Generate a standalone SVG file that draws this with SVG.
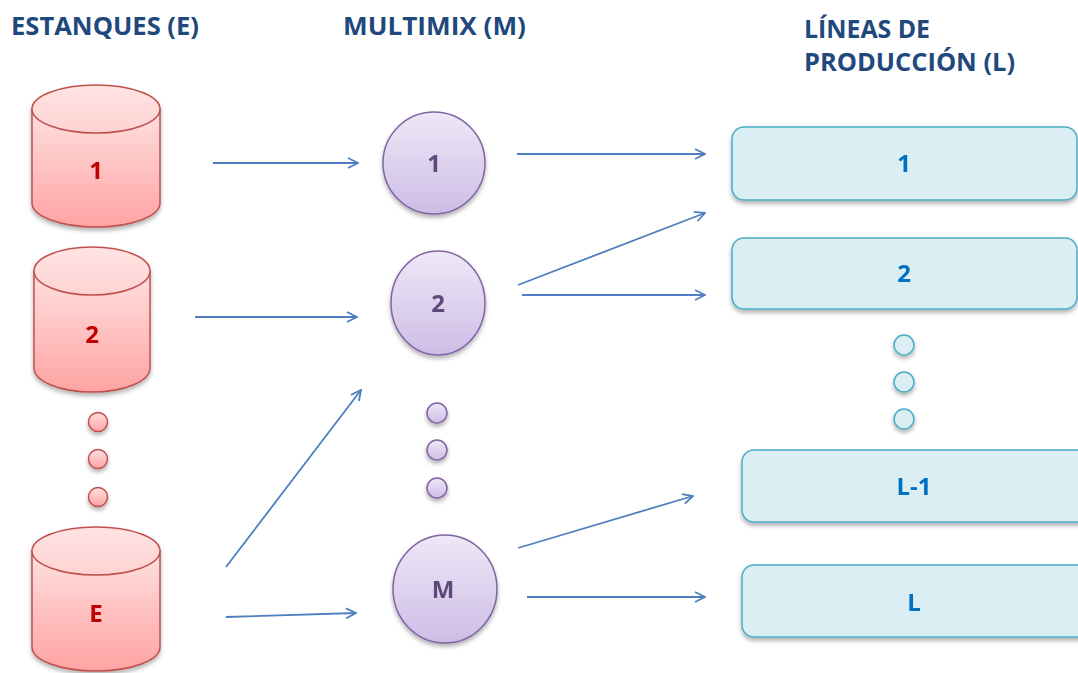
<svg xmlns="http://www.w3.org/2000/svg" width="1078" height="673" viewBox="0 0 1078 673">
<defs>
<linearGradient id="gRed" x1="0" y1="0" x2="0" y2="1"><stop offset="0" stop-color="#ffe0e0"/><stop offset="1" stop-color="#ffa3a3"/></linearGradient>
<linearGradient id="gRedTop" x1="0" y1="0" x2="0" y2="1"><stop offset="0" stop-color="#ffe4e4"/><stop offset="1" stop-color="#ffd2d2"/></linearGradient>
<linearGradient id="gPur" x1="0" y1="0" x2="0" y2="1"><stop offset="0" stop-color="#eee8f7"/><stop offset="1" stop-color="#cdbde6"/></linearGradient>
<filter id="sh" x="-20%" y="-20%" width="140%" height="150%"><feDropShadow dx="0" dy="3" stdDeviation="2" flood-color="#000" flood-opacity="0.3"/></filter>
<marker id="arr" viewBox="0 0 12 12" refX="11" refY="6" markerWidth="12" markerHeight="12" markerUnits="userSpaceOnUse" orient="auto">
<polyline points="1,1 11,6 1,11" fill="none" stroke="#4f7fbf" stroke-width="1.8"/>
</marker>
</defs>
<style>
.hdr{font-family:"Open Sans","Noto Sans",sans-serif;font-weight:bold;font-size:25px;fill:#1f497d}
.cyl{fill:url(#gRed);stroke:#c0504d;stroke-width:1.5}
.cyltop{fill:url(#gRedTop);stroke:#c0504d;stroke-width:1.5}
.rl{font-family:"Open Sans","Noto Sans",sans-serif;font-weight:bold;font-size:24px;fill:#c00000;text-anchor:middle}
.pur{fill:url(#gPur);stroke:#8064a2;stroke-width:1.5}
.pl{font-family:"Open Sans","Noto Sans",sans-serif;font-weight:bold;font-size:24px;fill:#5f497a;text-anchor:middle}
.blu{fill:#dbeef4;stroke:#4bacc6;stroke-width:1.5}
.bl{font-family:"Open Sans","Noto Sans",sans-serif;font-weight:bold;font-size:24px;fill:#0070c0;text-anchor:middle}
.rdot{fill:url(#gRed);stroke:#c0504d;stroke-width:1.5}
.con{stroke:#4f7fbf;stroke-width:1.8;fill:none;marker-end:url(#arr)}
</style>
<rect width="1078" height="673" fill="#ffffff"/>
<g id="headers">
<text class="hdr" x="11" y="35" textLength="188" lengthAdjust="spacingAndGlyphs">ESTANQUES (E)</text>
<text class="hdr" x="343" y="35" textLength="183" lengthAdjust="spacingAndGlyphs">MULTIMIX (M)</text>
<text class="hdr" x="804" y="38" textLength="126" lengthAdjust="spacingAndGlyphs">LÍNEAS DE</text>
<text class="hdr" x="804" y="71" textLength="211" lengthAdjust="spacingAndGlyphs">PRODUCCIÓN (L)</text>
</g>
<g id="E1" filter="url(#sh)">
<path class="cyl" d="M32,109 V203 A64,24 0 0 0 160,203 V109 Z"/>
<ellipse class="cyltop" cx="96" cy="109" rx="64" ry="24"/>
<text class="rl" x="96" y="179">1</text>
</g>
<g id="E2" filter="url(#sh)">
<path class="cyl" d="M34,271 V368 A58,24 0 0 0 150,368 V271 Z"/>
<ellipse class="cyltop" cx="92" cy="271" rx="58" ry="24"/>
<text class="rl" x="92" y="343">2</text>
</g>
<g id="Edots" filter="url(#sh)">
<circle class="rdot" cx="98" cy="422" r="9.5"/>
<circle class="rdot" cx="98" cy="459" r="9.5"/>
<circle class="rdot" cx="98" cy="497" r="9.5"/>
</g>
<g id="EE" filter="url(#sh)">
<path class="cyl" d="M32,551 V647 A64,24 0 0 0 160,647 V551 Z"/>
<ellipse class="cyltop" cx="96" cy="551" rx="64" ry="24"/>
<text class="rl" x="96" y="622">E</text>
</g>
<g id="M1" filter="url(#sh)">
<ellipse class="pur" cx="434" cy="163" rx="51" ry="51"/>
<text class="pl" x="434" y="172">1</text>
</g>
<g id="M2" filter="url(#sh)">
<ellipse class="pur" cx="438" cy="303" rx="47" ry="52"/>
<text class="pl" x="438" y="312">2</text>
</g>
<g id="Mdots" filter="url(#sh)">
<circle class="pur" cx="437" cy="413" r="10"/>
<circle class="pur" cx="437" cy="450" r="10"/>
<circle class="pur" cx="437" cy="488" r="10"/>
</g>
<g id="MM" filter="url(#sh)">
<ellipse class="pur" cx="445" cy="589" rx="52" ry="54"/>
<text class="pl" x="443" y="598">M</text>
</g>
<g id="L1" filter="url(#sh)">
<rect class="blu" x="732" y="127" width="345" height="73" rx="12"/>
<text class="bl" x="904" y="172">1</text>
</g>
<g id="L2" filter="url(#sh)">
<rect class="blu" x="732" y="238" width="345" height="71" rx="12"/>
<text class="bl" x="904" y="282">2</text>
</g>
<g id="Ldots" filter="url(#sh)">
<circle class="blu" cx="904" cy="345" r="10"/>
<circle class="blu" cx="904" cy="382" r="10"/>
<circle class="blu" cx="904" cy="419" r="10"/>
</g>
<g id="Lm1" filter="url(#sh)">
<rect class="blu" x="742" y="450" width="350" height="72" rx="12"/>
<text class="bl" x="914" y="495">L-1</text>
</g>
<g id="LL" filter="url(#sh)">
<rect class="blu" x="742" y="565" width="350" height="72" rx="12"/>
<text class="bl" x="914" y="611">L</text>
</g>
<g id="connectors">
<line class="con" x1="213" y1="163" x2="358" y2="163"/>
<line class="con" x1="195" y1="317" x2="357" y2="317"/>
<line class="con" x1="226" y1="567" x2="361" y2="390"/>
<line class="con" x1="226" y1="617" x2="356" y2="613"/>
<line class="con" x1="517" y1="154" x2="705" y2="154"/>
<line class="con" x1="518" y1="285" x2="705" y2="213"/>
<line class="con" x1="522" y1="295" x2="705" y2="295"/>
<line class="con" x1="518" y1="548" x2="693" y2="496"/>
<line class="con" x1="527" y1="597" x2="705" y2="597"/>
</g>
</svg>
